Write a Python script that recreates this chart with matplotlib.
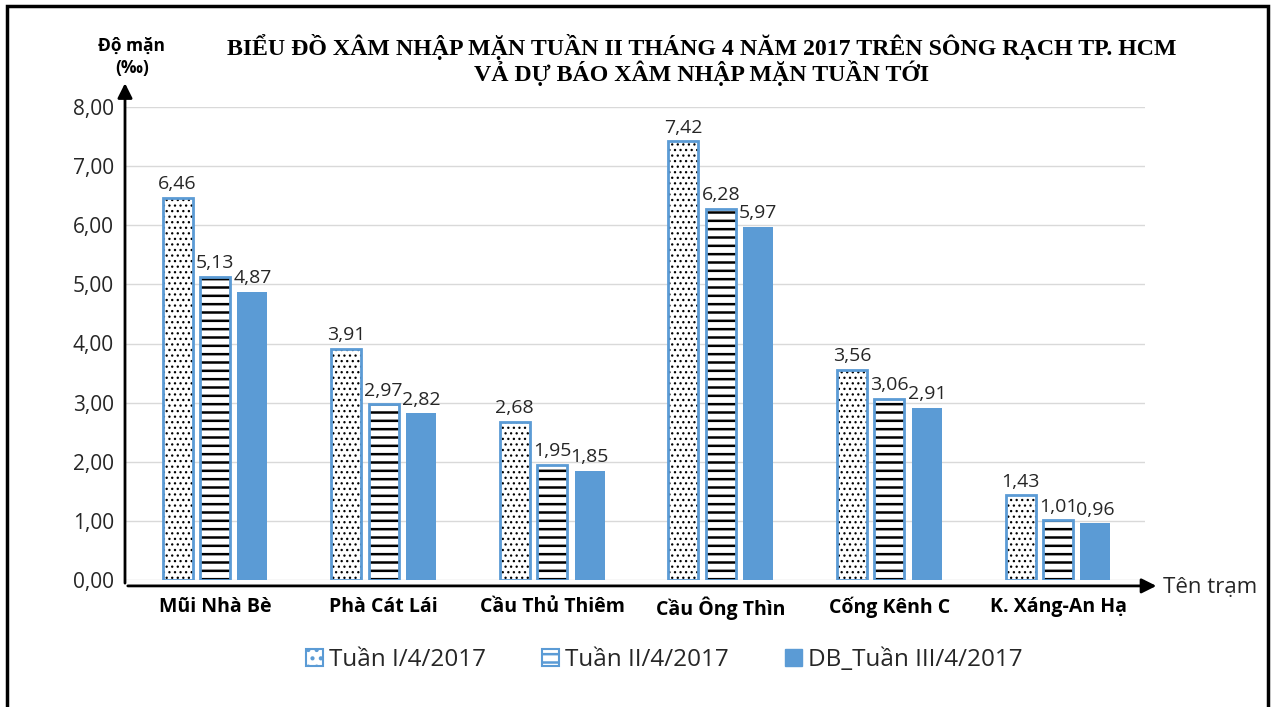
import matplotlib
matplotlib.use("Agg")
import matplotlib.pyplot as plt
from matplotlib.patches import Patch
import numpy as np

stations = ["Mũi Nhà Bè", "Phà Cát Lái", "Cầu Thủ Thiêm", "Cầu Ông Thìn", "Cống Kênh C", "K. Xáng-An Hạ"]
series_names = ["Tuần I/4/2017", "Tuần II/4/2017", "DB_Tuần III/4/2017"]
tuan1 = [6.46, 3.91, 2.68, 7.42, 3.56, 1.43]
tuan2 = [5.13, 2.97, 1.95, 6.28, 3.06, 1.01]
db_tuan3 = [4.87, 2.82, 1.85, 5.97, 2.91, 0.96]
yticks = [0, 1, 2, 3, 4, 5, 6, 7, 8]

blue = "#5B9BD5"
sans = ["Open Sans", "DejaVu Sans"]
serif = ["Liberation Serif", "DejaVu Serif"]
plt.rcParams['hatch.linewidth'] = 1.8

fig = plt.figure(figsize=(12.75, 7.07), dpi=100)
ax = fig.add_axes([125 / 1275, 1 - 580 / 707, 1020 / 1275, 473 / 707])

x = np.arange(len(stations))
w = 0.178
step = 0.222

def fmt(v):
    return f"{v:.2f}".replace(".", ",")

# series 1: dotted pattern, series 2: horizontal lines, series 3: solid
for vals, off, hatch, hlw in [(tuan1, -step, "...", 0.9), (tuan2, 0, "--", 1.8)]:
    bars = ax.bar(x + off, vals, w, color="white", edgecolor="black", hatch=hatch, linewidth=0, zorder=2)
    for b in bars:
        if hasattr(b, "set_hatch_linewidth"):
            b.set_hatch_linewidth(hlw)
    ax.bar(x + off, vals, w, color="none", edgecolor=blue, linewidth=2, zorder=3)
ax.bar(x + step, db_tuan3, w, color=blue, edgecolor=blue, linewidth=0, zorder=2)

for vals, off in [(tuan1, -step), (tuan2, 0), (db_tuan3, step)]:
    for xi, v in zip(x, vals):
        ax.text(xi + off, v + 0.08, fmt(v), ha="center", va="bottom", fontsize=14,
                family=sans, color="#262626")

ax.set_xlim(-0.534, 5.516)
ax.set_ylim(0, 8)
ax.set_yticks(yticks)
ax.set_yticklabels([fmt(t) for t in yticks], fontsize=15, family=sans, color="#262626")
ax.set_xticks(x)
ax.set_xticklabels(stations, fontsize=14, family=sans, fontweight="bold")
ax.tick_params(length=0, pad=12)
ax.tick_params(axis="y", pad=8)
ax.grid(axis="y", color="#d9d9d9", linewidth=1, zorder=0)
for s in ax.spines.values():
    s.set_visible(False)

# arrow axes
x0 = ax.get_xlim()[0]
ax.annotate("", xy=(x0, 8.45), xytext=(x0, -0.1), xycoords="data",
            arrowprops=dict(arrowstyle="-|>", color="black", lw=2, mutation_scale=22),
            annotation_clip=False)
ax.annotate("", xy=(5.6, -0.1), xytext=(x0, -0.1), xycoords="data",
            arrowprops=dict(arrowstyle="-|>", color="black", lw=2, mutation_scale=22),
            annotation_clip=False)
ax.text(5.62, -0.12, "Tên trạm", ha="left", va="center", fontsize=16, family=sans,
        color="#262626")

fig.text(132 / 1275, 1 - 57 / 707, "Độ mặn\n(‰)", ha="center", va="center", fontsize=12.5,
         family=sans, fontweight="bold", linespacing=1.3)
fig.text(702 / 1275, 1 - 60 / 707,
         "BIỂU ĐỒ XÂM NHẬP MẶN TUẦN II THÁNG 4 NĂM 2017 TRÊN SÔNG RẠCH TP. HCM\nVẢ DỰ BÁO XÂM NHẬP MẶN TUẦN TỚI",
         ha="center", va="center", fontsize=17.2, family=serif, fontweight="bold", linespacing=1.0)

# legend
handles = [Patch(facecolor="white", edgecolor=blue, hatch="..", linewidth=1.5),
           Patch(facecolor="white", edgecolor=blue, hatch="--", linewidth=1.5),
           Patch(facecolor=blue, edgecolor=blue)]
leg = fig.legend(handles, series_names, loc="center", bbox_to_anchor=(664 / 1275, 1 - 660 / 707),
                 ncol=3, frameon=False, prop=dict(family=sans, size=17.5), handlelength=0.7,
                 handleheight=0.7, handletextpad=0.25, columnspacing=2.3)
for t in leg.get_texts():
    t.set_color("#262626")

# figure border
fig.add_artist(plt.Rectangle((7 / 1275, -0.01), 1261 / 1275, 1 - 6 / 707 + 0.01,
                             transform=fig.transFigure, fill=False, edgecolor="black", linewidth=2.5))

fig.savefig("out.png", dpi=100, facecolor="white")
